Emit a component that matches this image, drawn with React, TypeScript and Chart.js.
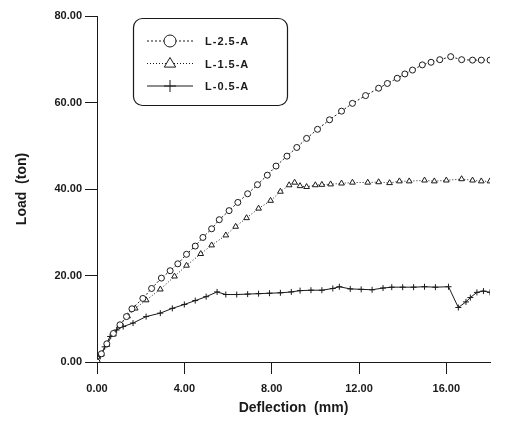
import React, { useEffect, useRef } from 'react';
import { Chart, registerables } from 'chart.js';

Chart.register(...registerables);

// ---- data ----
const seriesNames = ['L-2.5-A', 'L-1.5-A', 'L-0.5-A'];

const deflA25 = [0, 0.2, 0.45, 0.75, 1.05, 1.35, 1.6, 2.1, 2.5, 2.95, 3.35, 3.7, 4.1, 4.5, 4.85, 5.25, 5.6, 6.05, 6.45, 6.9, 7.35, 7.8, 8.2, 8.7, 9.15, 9.6, 10.1, 10.65, 11.2, 11.7, 12.3, 12.9, 13.3, 13.75, 14.1, 14.45, 14.9, 15.3, 15.7, 16.2, 16.7, 17.2, 17.6, 18.0];
const loadA25 = [0, 1.9, 4.2, 6.6, 8.6, 10.5, 12.3, 14.7, 17.0, 19.4, 21.1, 22.7, 24.9, 26.8, 28.8, 30.8, 32.9, 35.0, 36.9, 38.9, 41.0, 43.2, 45.3, 47.6, 49.6, 51.7, 53.8, 56.0, 58.0, 59.8, 61.6, 63.3, 64.4, 65.6, 66.6, 67.5, 68.7, 69.3, 69.9, 70.6, 69.9, 69.8, 69.8, 69.8];

const deflA15 = [0, 0.2, 0.45, 0.75, 1.05, 1.4, 1.75, 2.25, 2.9, 3.55, 4.1, 4.75, 5.25, 5.9, 6.35, 6.85, 7.4, 7.95, 8.4, 8.8, 9.05, 9.3, 9.6, 10.0, 10.3, 10.7, 11.2, 11.7, 12.4, 12.9, 13.4, 13.85, 14.3, 15.0, 15.45, 16.0, 16.7, 17.2, 17.6, 18.0];
const loadA15 = [0, 1.8, 4.0, 6.4, 8.5, 10.6, 12.4, 14.3, 16.8, 19.8, 22.3, 25.0, 27.0, 29.3, 31.3, 33.3, 35.5, 37.3, 39.4, 40.9, 41.5, 40.7, 40.5, 40.9, 41.0, 41.1, 41.3, 41.5, 41.5, 41.6, 41.4, 41.8, 41.8, 42.0, 41.8, 42.0, 42.3, 42.0, 41.8, 41.8];

const deflA05 = [0, 0.15, 0.35, 0.6, 0.9, 1.2, 1.65, 2.25, 2.9, 3.45, 4.0, 4.5, 5.0, 5.5, 5.9, 6.4, 6.9, 7.4, 7.9, 8.4, 8.9, 9.3, 9.8, 10.3, 10.8, 11.1, 11.6, 12.1, 12.6, 13.1, 13.5, 14.0, 14.5, 15.0, 15.5, 16.1, 16.55, 16.9, 17.1, 17.4, 17.7, 18.0];
const loadA05 = [0, 1.3, 3.5, 5.9, 7.4, 8.2, 9.0, 10.5, 11.3, 12.4, 13.3, 14.2, 15.1, 16.2, 15.6, 15.6, 15.7, 15.8, 15.9, 16.0, 16.2, 16.5, 16.6, 16.6, 17.0, 17.4, 16.9, 16.8, 16.7, 17.1, 17.3, 17.3, 17.3, 17.4, 17.3, 17.4, 12.6, 13.9, 14.9, 16.1, 16.4, 16.1];

const xRange = [0, 18];
const yRange = [0, 80];
const xStep = 4;
const yStep = 20;
const xTitle = 'Deflection  (mm)';
const yTitle = 'Load  (ton)';

const FONT = "'Liberation Sans', Arial, sans-serif";
const INK = '#1a1a1a';

const toPts = (xs: number[], ys: number[]) => xs.map((x, i) => ({ x, y: ys[i] }));

function drawMarker(ctx: CanvasRenderingContext2D, style: string, x: number, y: number, r: number) {
  ctx.beginPath();
  if (style === 'circle') {
    ctx.arc(x, y, r, 0, Math.PI * 2);
    ctx.fillStyle = '#fff';
    ctx.fill();
    ctx.stroke();
  } else if (style === 'triangle') {
    ctx.moveTo(x, y - r);
    ctx.lineTo(x + r * 0.95, y + r * 0.6);
    ctx.lineTo(x - r * 0.95, y + r * 0.6);
    ctx.closePath();
    ctx.fillStyle = '#fff';
    ctx.fill();
    ctx.stroke();
  } else {
    ctx.moveTo(x, y - r);
    ctx.lineTo(x, y + r);
    ctx.moveTo(x - r, y);
    ctx.lineTo(x + r, y);
    ctx.stroke();
  }
}

const legendBox = {
  id: 'legendBox',
  afterDraw(chart: any) {
    const ctx: CanvasRenderingContext2D = chart.ctx;
    ctx.save();
    ctx.strokeStyle = INK;
    ctx.lineWidth = 1.2;
    ctx.setLineDash([]);
    ctx.beginPath();
    (ctx as any).roundRect(133.5, 18.5, 154, 87, 9);
    ctx.stroke();
    chart.data.datasets.forEach((ds: any, i: number) => {
      const y = 41 + i * 22.5;
      ctx.strokeStyle = INK;
      ctx.lineWidth = 1;
      ctx.setLineDash(ds.borderDash || []);
      ctx.beginPath();
      ctx.moveTo(147, y);
      ctx.lineTo(193, y);
      ctx.stroke();
      ctx.setLineDash([]);
      drawMarker(ctx, ds.pointStyle, 170, y, 6);
      ctx.fillStyle = INK;
      ctx.font = `bold 11px ${FONT}`;
      (ctx as any).letterSpacing = '1px';
      ctx.textBaseline = 'middle';
      ctx.textAlign = 'left';
      ctx.fillText(ds.label, 205, y + 1);
      (ctx as any).letterSpacing = '0px';
    });
    ctx.restore();
  },
};

export default function App() {
  const ref = useRef<HTMLCanvasElement>(null);
  useEffect(() => {
    if (!ref.current) return;
    const styles = ['circle', 'triangle', 'cross'];
    const dashes = [[2, 2], [1, 2], []];
    const radii = [3, 3.3, 3];
    const pts = [toPts(deflA25, loadA25), toPts(deflA15, loadA15), toPts(deflA05, loadA05)];
    const chart = new Chart(ref.current, {
      type: 'scatter',
      data: {
        datasets: seriesNames.map((name, i) => ({
          label: name,
          data: pts[i],
          showLine: true,
          borderColor: INK,
          borderWidth: 1,
          borderDash: dashes[i],
          pointStyle: styles[i],
          pointRadius: radii[i],
          pointBorderWidth: 1,
          pointBorderColor: INK,
          pointBackgroundColor: '#fff',
        })),
      },
      options: {
        animation: false,
        responsive: true,
        maintainAspectRatio: false,
        layout: { padding: { top: 16, right: 16, bottom: 0, left: 0 } },
        plugins: { legend: { display: false }, tooltip: { enabled: false } },
        scales: {
          x: {
            type: 'linear',
            min: xRange[0],
            max: xRange[1],
            afterFit: (s: any) => { s.height = 59; },
            border: { display: true, color: INK, width: 1 },
            grid: { display: true, drawOnChartArea: false, drawTicks: true, tickLength: 12, color: INK },
            ticks: {
              stepSize: xStep,
              includeBounds: false,
              padding: 8,
              color: INK,
              font: { family: FONT, size: 11, weight: 'bold' },
              callback: (v: any) => Number(v).toFixed(2),
            },
            title: {
              display: true,
              text: xTitle,
              color: INK,
              font: { family: FONT, size: 14, weight: 'bold' },
              padding: { top: 0, bottom: 4 },
            },
          },
          y: {
            type: 'linear',
            min: yRange[0],
            max: yRange[1],
            afterFit: (s: any) => { s.width = 97; },
            border: { display: true, color: INK, width: 1 },
            grid: { display: true, drawOnChartArea: false, drawTicks: true, tickLength: 12, color: INK },
            ticks: {
              stepSize: yStep,
              padding: 3,
              color: INK,
              font: { family: FONT, size: 11, weight: 'bold' },
              callback: (v: any) => Number(v).toFixed(2),
            },
            title: {
              display: true,
              text: yTitle,
              color: INK,
              font: { family: FONT, size: 14, weight: 'bold' },
              padding: { top: 14, bottom: 0 },
            },
          },
        },
      },
      plugins: [legendBox],
    } as any);
    return () => chart.destroy();
  }, []);
  return (
    <div style={{ position: 'fixed', left: 0, top: 0, width: 506, height: 421, background: '#fff' }}>
      <canvas ref={ref} />
    </div>
  );
}
